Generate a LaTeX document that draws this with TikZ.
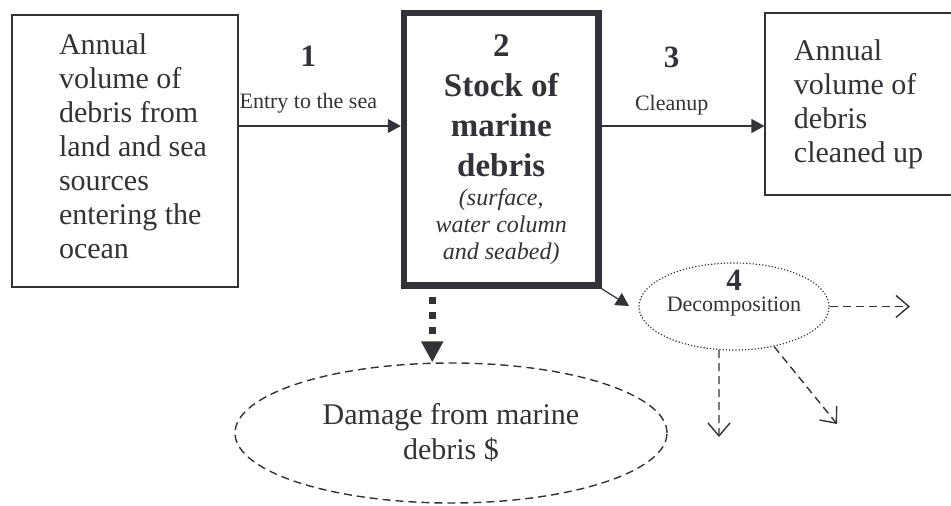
\documentclass[tikz,border=0pt]{standalone}
\usepackage{fontspec}
\setmainfont{Liberation Serif}
\usetikzlibrary{positioning, arrows.meta, shapes.geometric}
\definecolor{ink}{RGB}{50,50,56}

\begin{document}
\begin{tikzpicture}[x=1pt, y=-1pt, color=ink, text=ink,
    box/.style={draw, line width=1.2pt, inner sep=0pt,
      font=\fontsize{30}{34}\selectfont},
    stockbox/.style={draw, line width=6.5pt, inner sep=0pt,
      minimum width=194.5pt, minimum height=272.5pt,
      text width=190pt, align=flush center,
      font=\fontsize{33}{40}\selectfont\bfseries},
    decomp/.style={ellipse, draw, dotted, line width=1.2pt, inner sep=0pt,
      minimum width=182pt, minimum height=87pt,
      font=\fontsize{22}{24}\selectfont},
    harmshape/.style={ellipse, draw, dash pattern=on 8pt off 5pt,
      line width=1.4pt, inner sep=0pt,
      minimum width=432pt, minimum height=140pt, align=center,
      font=\fontsize{30}{35}\selectfont},
    num/.style={inner sep=0pt, font=\fontsize{31}{31}\selectfont\bfseries},
    lbl/.style={inner sep=0pt, font=\fontsize{22}{24}\selectfont},
    flow/.style={-{Triangle[length=13pt, width=14pt]}, line width=1.2pt},
    leak/.style={-{Straight Barb[length=13pt, width=22pt]}, line width=1.4pt,
      dash pattern=on 8pt off 5pt},
    harm/.style={-{Triangle[length=21pt, width=21pt]}, line width=7pt,
      dash pattern=on 7pt off 8pt, shorten <=8pt}]

  \useasboundingbox (0,0) rectangle (951,506);

  % boxes
  \node[box, minimum width=226pt, minimum height=272pt,
        text width=164pt, align=flush left] (src) at (125,151)
    {\leftskip=16pt Annual\\ volume of\\ debris from\\ land and sea\\ sources\\ entering the\\ ocean\strut\par};
  \node[stockbox] (stock) at (501.25,149.25)
    {2\\ Stock of\\ marine\\ debris\\[2pt]
     \fontsize{24}{27}\selectfont\mdseries\itshape (surface,\\ water column\\ and seabed)\par};
  \node[box, minimum width=187pt, minimum height=182pt, align=left] (sink) at (858.5,104)
    {Annual\\ volume of\\ debris\\ cleaned up};

  % flows in and out
  \coordinate (entry) at ([yshift=25pt]src.east);
  \draw[flow] (entry) -- node[pos=.43, above=12pt, lbl] (entrylbl) {Entry to the sea}
    (entry -| stock.west);
  \node[num, above=26pt of entrylbl] (n1) {1};
  \draw[flow] (entry -| stock.east) -- node[pos=.43, above=10pt, lbl] (cleanlbl) {Cleanup}
    (entry -| sink.west);
  \node[num, above=27pt of cleanlbl] (n3) {3};

  % decomposition
  \node[decomp] (decay) at (734,306.5) {Decomposition};
  \node[num, anchor=base] (n4) at ([yshift=16pt]decay.center) {4};
  \coordinate (rot) at (629,306);
  \draw[flow] (stock.south east) -- (rot);
  \coordinate (drift) at (910,306.5);
  \coordinate (settle) at (719,437);
  \coordinate (spread) at (837,424);
  \draw[leak] (decay.east) -- (drift);
  \draw[leak] (decay.251) -- (settle);
  \draw[leak] (decay.-45) -- (spread);

  % damage
  \node[harmshape] (dmg) at (451,433) {Damage from marine\\ debris \$};
  \coordinate (harmtop) at ([xshift=-69pt]stock.south);
  \draw[harm] (harmtop) -- (harmtop |- dmg.north);
\end{tikzpicture}
\end{document}
